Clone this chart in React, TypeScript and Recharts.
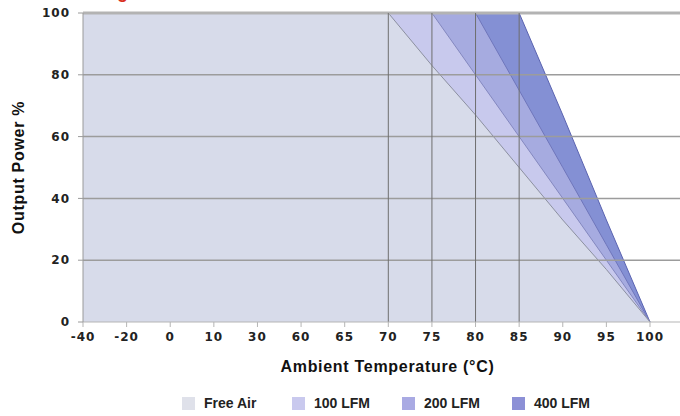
import React from 'react';
import {
  ComposedChart, Area, XAxis, YAxis, ReferenceLine,
} from 'recharts';

// ambient temperature categories (axis is not linear in the source chart)
const temps = ['-40', '-20', '0', '10', '30', '60', '65', '70', '75', '80', '85', '90', '95', '100'];

const freeAir = [100, 100, 100, 100, 100, 100, 100, 100, 83, 67, 50, 33, 17, 0];
const lfm100 = [100, 100, 100, 100, 100, 100, 100, 100, 100, 80, 60, 40, 20, 0];
const lfm200 = [100, 100, 100, 100, 100, 100, 100, 100, 100, 100, 75, 50, 25, 0];
const lfm400 = [100, 100, 100, 100, 100, 100, 100, 100, 100, 100, 100, 67, 33, 0];

const yTicks = [0, 20, 40, 60, 80, 100];
const breakTemps = ['70', '75', '80', '85'];

const seriesNames = ['Free Air', '100 LFM', '200 LFM', '400 LFM'];
const seriesKeys = ['freeAir', 'lfm100', 'lfm200', 'lfm400'];
const fills = ['#d7dbea', '#c8c9ed', '#a6abe0', '#8490d4'];
const strokes = ['#8c90a0', '#8488bf', '#6f76bb', '#5a63b0'];
const swatches = ['#dfe1ea', '#c9c9ee', '#a9aae3', '#8c90d6'];

const data = temps.map((t, i) => ({
  temp: t,
  freeAir: freeAir[i],
  lfm100: lfm100[i],
  lfm200: lfm200[i],
  lfm400: lfm400[i],
}));

const tickStyle = { fontFamily: 'DejaVu Sans', fontWeight: 'bold', fontSize: 12, letterSpacing: 1, fill: '#222' };
const titleStyle = { fontFamily: 'Liberation Sans, Arial', fontWeight: 'bold', fontSize: 16, letterSpacing: 0.7, fill: '#111' };

export default function App() {
  // draw darkest first so lighter bands sit on top
  const order = [3, 2, 1, 0];

  return (
    <div style={{ position: 'absolute', left: 0, top: 0, width: 680, height: 416, background: '#fff' }}>
      <svg width={680} height={20} style={{ position: 'absolute', left: 0, top: 0 }}>
        <text x={128} y={-2} textAnchor="end" fill="#d9301c" fontFamily="Liberation Sans, Arial" fontWeight="bold" fontSize={18}>
          Power Derating
        </text>
      </svg>
      <ComposedChart width={680} height={416} data={data} margin={{ top: 13, right: 0, left: 10, bottom: 42 }}>
        <XAxis
          dataKey="temp"
          type="category"
          padding={{ left: 0, right: 30 }}
          height={52}
          tick={tickStyle}
          tickSize={5}
          tickMargin={5}
          stroke="#b5b5b5"
          interval={0}
          label={{ value: 'Ambient Temperature (°C)', position: 'insideBottom', offset: 2, dx: 6, style: titleStyle }}
        />
        <YAxis
          domain={[0, 100]}
          ticks={yTicks}
          width={73}
          tick={tickStyle}
          tickSize={5}
          tickMargin={8}
          stroke="#9a9a9a"
          label={{ value: 'Output Power %', angle: -90, position: 'insideLeft', offset: 8, style: { ...titleStyle, textAnchor: 'middle' } }}
        />
        {order.map((i) => (
          <Area
            key={seriesKeys[i]}
            type="linear"
            dataKey={seriesKeys[i]}
            name={seriesNames[i]}
            fill={fills[i]}
            fillOpacity={1}
            stroke={strokes[i]}
            strokeWidth={1}
            isAnimationActive={false}
          />
        ))}
        {yTicks.filter((v) => v > 0 && v < 100).map((v) => (
          <ReferenceLine key={v} y={v} stroke="#9c9c9c" strokeWidth={1.5} />
        ))}
        <ReferenceLine y={100} stroke="#b3b3b3" strokeWidth={3} />
        {breakTemps.map((t) => (
          <ReferenceLine key={t} x={t} stroke="#6e6e6e" strokeWidth={1} />
        ))}
      </ComposedChart>
      <div style={{ position: 'absolute', left: 182, top: 395, display: 'flex' }}>
        {seriesNames.map((n, i) => (
          <div key={n} style={{ width: 110, display: 'flex', alignItems: 'center', fontFamily: 'Liberation Sans, Arial', fontWeight: 'bold', fontSize: 14, color: '#222' }}>
            <span style={{ width: 13, height: 13, background: swatches[i], marginRight: 9, display: 'inline-block' }} />
            {n}
          </div>
        ))}
      </div>
    </div>
  );
}
